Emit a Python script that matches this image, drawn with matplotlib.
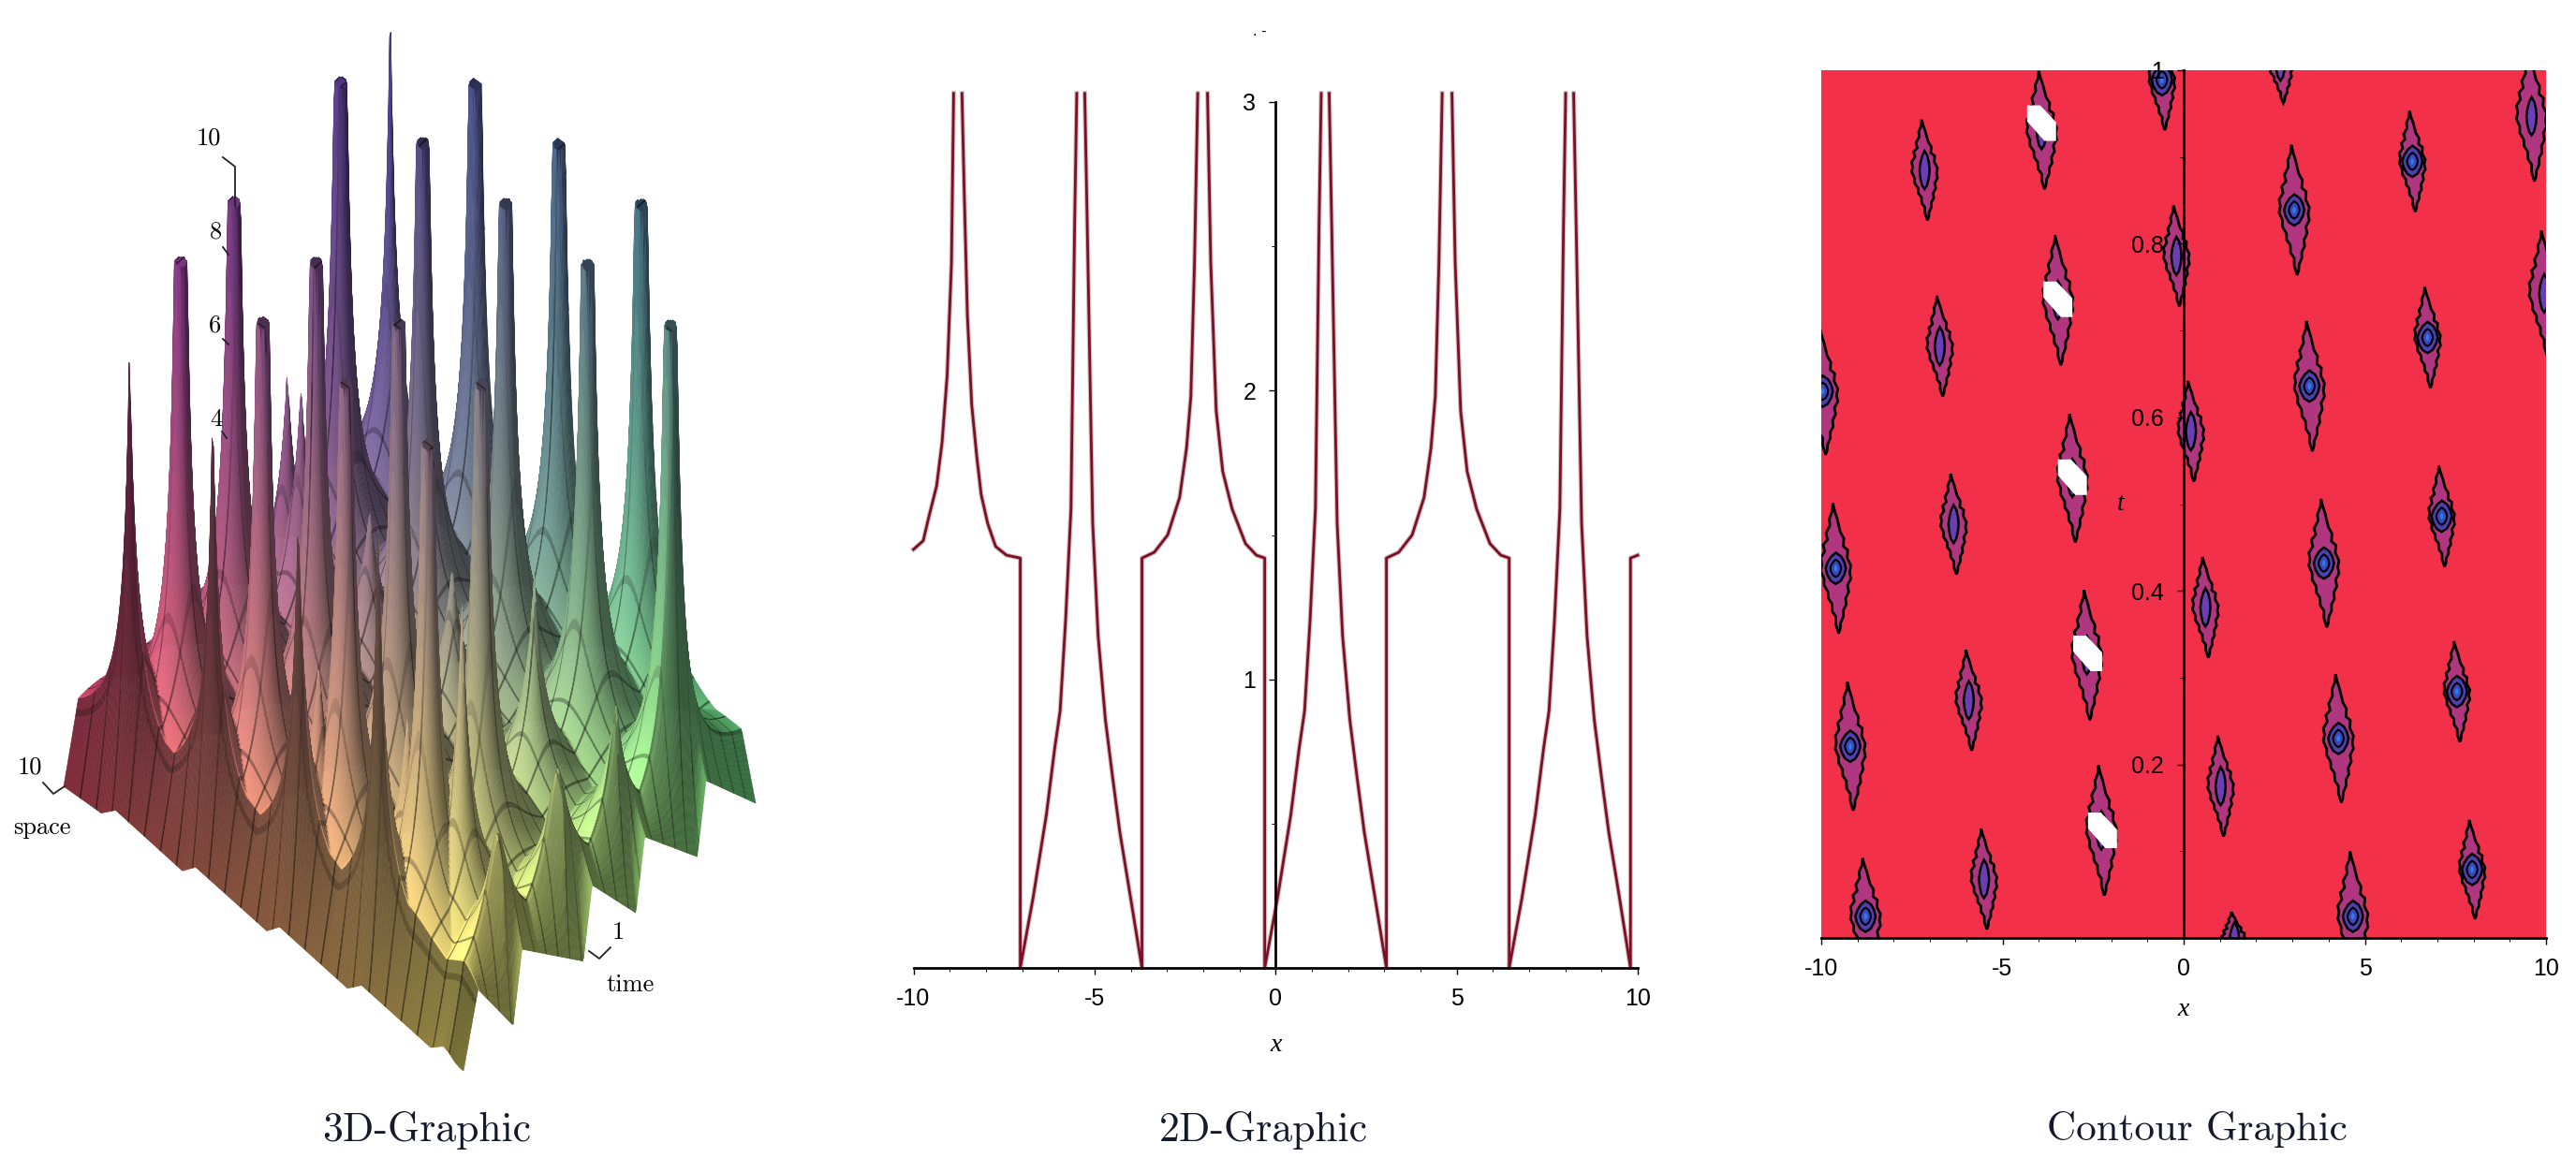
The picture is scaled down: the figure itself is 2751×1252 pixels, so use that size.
import numpy as np
import matplotlib
matplotlib.use('Agg')
import matplotlib.pyplot as plt
from matplotlib.collections import PolyCollection

W, H = 2751, 1252
nan = float('nan')

# 2D graphic
curve_x = [-10.00, -9.73, -9.58, -9.36, -9.21, -9.07, -8.95, -8.89, nan, -8.66, -8.60, -8.51, -8.39, -8.25, -8.13, -7.95, -7.73, -7.43, -7.05,
           -7.05, -6.70, -6.33, -6.10, -5.95, -5.80, -5.65, -5.55, -5.49, nan, -5.27, -5.20, -5.05, -4.90, -4.70, -4.50, -4.30, -4.00, -3.69,
           -3.69, -3.35, -2.98, -2.65, -2.46, -2.34, -2.24, -2.15, nan, -1.88, -1.79, -1.64, -1.46, -1.20, -0.83, -0.53, -0.30,
           -0.30, 0.05, 0.42, 0.65, 0.80, 0.95, 1.10, 1.20, 1.26, nan, 1.48, 1.55, 1.70, 1.85, 2.05, 2.25, 2.45, 2.75, 3.06,
           3.06, 3.40, 3.77, 4.10, 4.29, 4.41, 4.51, 4.60, nan, 4.87, 4.96, 5.11, 5.29, 5.55, 5.92, 6.22, 6.45,
           6.45, 6.80, 7.17, 7.40, 7.55, 7.70, 7.85, 7.95, 8.01, nan, 8.23, 8.30, 8.45, 8.60, 8.80, 9.00, 9.20, 9.50, 9.80,
           9.80, 10.00]
curve_y = [1.45, 1.48, 1.56, 1.67, 1.82, 2.05, 2.44, 3.03, nan, 3.03, 2.70, 2.26, 1.95, 1.77, 1.64, 1.54, 1.46, 1.43, 1.42,
           0.00, 0.24, 0.53, 0.76, 0.89, 1.20, 1.59, 2.57, 3.03, nan, 3.03, 2.57, 1.54, 1.15, 0.86, 0.66, 0.47, 0.24, 0.00,
           1.42, 1.44, 1.50, 1.63, 1.80, 1.98, 2.44, 3.03, nan, 3.03, 2.44, 1.93, 1.72, 1.59, 1.47, 1.43, 1.42,
           0.00, 0.24, 0.53, 0.76, 0.89, 1.20, 1.59, 2.57, 3.03, nan, 3.03, 2.57, 1.54, 1.15, 0.86, 0.66, 0.47, 0.24, 0.00,
           1.42, 1.44, 1.50, 1.63, 1.80, 1.98, 2.44, 3.03, nan, 3.03, 2.44, 1.93, 1.72, 1.59, 1.47, 1.43, 1.42,
           0.00, 0.24, 0.53, 0.76, 0.89, 1.20, 1.59, 2.57, 3.03, nan, 3.03, 2.57, 1.54, 1.15, 0.86, 0.66, 0.47, 0.24, 0.00,
           1.42, 1.43]

# contour graphic: one entry per closed contour family
blob_x = [-3.92, -0.60, 2.67, 9.60, -7.15, 6.31, 3.05, -0.20, -3.47, 9.95, -6.73, 6.73, 3.47, -9.96, 0.20, -3.07, -6.35,
          7.12, 3.87, -9.60, 0.60, -2.67, -5.93, 7.54, 4.27, -9.20, 1.02, -2.27, -5.51, 7.96, 4.67, -8.78, 1.40]
blob_t = [0.931, 0.989, 1.010, 0.947, 0.885, 0.895, 0.839, 0.786, 0.735, 0.743, 0.682, 0.692, 0.636, 0.630, 0.584, 0.530, 0.477,
          0.486, 0.432, 0.426, 0.381, 0.326, 0.274, 0.284, 0.230, 0.221, 0.175, 0.124, 0.068, 0.079, 0.025, 0.025, -0.004]
blob_h = [0.068, 0.058, 0.048, 0.075, 0.058, 0.058, 0.075, 0.058, 0.075, 0.072, 0.058, 0.058, 0.075, 0.073, 0.058, 0.074, 0.058,
          0.058, 0.074, 0.075, 0.058, 0.075, 0.058, 0.058, 0.074, 0.074, 0.058, 0.075, 0.058, 0.057, 0.075, 0.067, 0.034]
blob_rings = [0, 1, 0, 0, 0, 1, 1, 0, 0, 0, 0, 1, 1, 1, 0, 0, 0, 1, 1, 1, 0, 0, 0, 1, 1, 1, 0, 0, 0, 1, 1, 1, 0]
gap_x = [-3.92, -3.47, -3.07, -2.65, -2.24]
gap_t = [0.939, 0.736, 0.531, 0.328, 0.124]

outline_u = [0, .10, .24, .30, .40, .62, .56, .84, .78, 1.0, .90, .96, .72, .78, .56, .58, .38, .36, .16, .12,
             0, -.16, -.14, -.36, -.36, -.58, -.58, -.82, -.80, -1, -.90, -.96, -.68, -.76, -.46, -.54, -.26, -.28, -.06, 0]
outline_v = [1, .88, .76, .68, .56, .46, .34, .28, .16, .04, -.06, -.16, -.26, -.36, -.46, -.56, -.64, -.74, -.84, -.93,
             -1, -.86, -.74, -.66, -.54, -.46, -.36, -.26, -.16, -.04, .06, .16, .26, .36, .44, .54, .66, .76, .88, 1]
core_u = [0, .55, .85, 1, .85, .5, 0, -.5, -.85, -1, -.8, -.45, 0]
core_v = [1, .75, .4, 0, -.4, -.8, -1, -.8, -.4, 0, .4, .75, 1]
gap_u = [-1, -.1, 1, 1, .2, -1, -1]
gap_v = [1, 1, .05, -1, -1, .1, 1]

# 3D graphic: peaks, space and time as fractions of the base edges
peak_s = [.097, .306, .516, .725,
          .114, .323, .533, .742, .952,
          .131, .170, .340, .550, .759, .969,
          .148, .357, .567, .776, .986,
          .165, .374, .584, .793, .985,
          .128, .336, .550, .750, .550, .750, .850]
peak_t = [.985, .990, .989, .984,
          .792, .787, .783, .778, .774,
          .586, .580, .582, .577, .572, .568,
          .381, .376, .371, .367, .362,
          .175, .170, .166, .161, .157,
          .050, .050, .050, .050, .120, .150, .200]
peak_h = [9.99, 10, 10, 10,
          10, 10, 10, 10, 10,
          5.7, 5.7, 4.2, 4.3, 5.3, 4.3,
          10, 10, 10, 10, 7.3,
          10, 10, 10, 10, 6.3,
          9.0, 9.0, 8.1, 9.2, 4.8, 4.7, 7.3]
peak_boost = .9
front_s = [0, .094, .13, .297, .33, .508, .54, .71, .745, .918, .95, 1]
front_z = [0, 0, .25, 0, .25, 0, .25, 0, .25, 0, .2, 0]
side_t = [0, .05, .17, .20, .41, .44, .59, .62, .80, .83, 1]
side_z = [0, 1.3, 0, 1.3, 0, 1.3, 0, 1.3, 0, 1.3, 0]

plt.rcParams['font.family'] = ['Liberation Sans', 'DejaVu Sans']
CM = ['cmr10', 'DejaVu Serif']

fig = plt.figure(figsize=(W / 100, H / 100), dpi=100)
bg = fig.add_axes([0, 0, 1, 1])
bg.set_xlim(0, W)
bg.set_ylim(H, 0)
bg.axis('off')


def px_axes(left, right, top, bottom):
    return fig.add_axes([left / W, 1 - bottom / H, (right - left) / W, (bottom - top) / H])


def draw_surface():
    n = 300
    s, t = np.meshgrid(np.linspace(0, 1, n), np.linspace(0, 1, n), indexing='ij')
    ox, oy = 68, 840
    lx, ly = 427, 304
    bx, by = 312, -286
    zscale = 56
    floor = .55
    gx = ox + lx * s + bx * t
    gy = oy + ly * s + by * t
    z = np.zeros_like(s)
    for ps, pt, ph in zip(peak_s, peak_t, peak_h):
        r = np.hypot(gx - (ox + lx * ps + bx * pt), gy - (oy + ly * ps + by * pt))
        if ph >= 10:
            zp = np.minimum(ph, floor + 65 / (r + .01))
        else:
            # lower peaks end in a point, not a cut off tube
            tip = ph + peak_boost if ph > 9.5 else ph
            r0 = 65 / (tip - floor)
            zp = floor + (tip - floor) * r0 / (r0 + r)
        z = np.maximum(z, zp)
    cap = (z >= 9.99) & (s > .2)
    # toothed rims at the two visible edges
    f = np.clip(t / .05, 0, 1)
    z = f * z + (1 - f) * np.interp(s, front_s, front_z)
    f2 = np.clip((1 - s) / .035, 0, 1)
    z = f2 * z + (1 - f2) * np.minimum(z, np.interp(t, side_t, side_z))

    dz_s, dz_t = np.gradient(z * zscale, s[:, 0], t[0, :])
    inv = np.linalg.inv(np.array([[lx, ly], [bx, by]], float))
    dz_x = inv[0, 0] * dz_s + inv[0, 1] * dz_t
    dz_y = inv[1, 0] * dz_s + inv[1, 1] * dz_t
    norm = np.sqrt(dz_x ** 2 + dz_y ** 2 + 1)
    light = (.60 * dz_x - .45 * dz_y + .66) / norm
    shade = .55 + .68 * np.clip(light, 0, 1)
    shade[cap] = .62

    zn = np.clip(z / 10, 0, 1)
    corners = np.array([[.88, .28, .38], [.98, .92, .42], [.44, .94, .52], [.44, .34, .58]])
    base = (corners[0] * ((1 - s) * (1 - t))[..., None] + corners[1] * (s * (1 - t))[..., None]
            + corners[2] * (s * t)[..., None] + corners[3] * ((1 - s) * t)[..., None])
    rgb = np.stack([base[..., 0] * (1 - .4 * zn), base[..., 1] * (1 - .45 * zn),
                    base[..., 2] * (1 - zn) + .52 * zn], axis=-1) * shade[..., None]
    rgb[t < .05] *= .5
    rgb[s > .965] *= .85
    # mesh lines are darkened cells so that they hide correctly, fading where a cell stretches across
    ds, dt = 1 / (n - 1), 1 / (n - 1)
    for i in range(12, n, 12):
        w = 1 / (1 + np.abs(dz_s[i, :]) * ds / 5)
        rgb[i, :] *= (1 - .55 * w)[:, None]
        w = 1 / (1 + np.abs(dz_t[:, i]) * dt / 5)
        rgb[:, i] *= (1 - .5 * w)[:, None]
    rgb = np.clip(rgb, 0, 1)

    sx, sy = gx, gy - z * zscale
    quads = np.stack([np.stack([sx[:-1, :-1], sy[:-1, :-1]], -1), np.stack([sx[1:, :-1], sy[1:, :-1]], -1),
                      np.stack([sx[1:, 1:], sy[1:, 1:]], -1), np.stack([sx[:-1, 1:], sy[:-1, 1:]], -1)], axis=2)
    quads = quads.reshape(-1, 4, 2)
    cols = rgb[:-1, :-1].reshape(-1, 3)
    order = np.argsort(gy[:-1, :-1].ravel())
    bg.add_collection(PolyCollection(quads[order], facecolors=cols[order], edgecolors=cols[order], linewidths=.4))


draw_surface()

# 3D axis labels
for xs, ys in [([238, 251, 251], [168, 178, 220]), ([238, 244], [264, 272]), ([238, 244], [362, 368]),
               ([237, 242], [461, 468]), ([46, 57, 69], [836, 848, 840]), ([629, 640, 652], [1016, 1024, 1012])]:
    bg.plot(xs, ys, color='#222222', lw=1.3, zorder=5)
for label, px, py in [('10', 223, 148), ('8', 230, 248), ('6', 230, 348), ('4', 231, 448),
                      ('10', 32, 820), ('space', 45, 884), ('1', 660, 996), ('time', 673, 1052)]:
    bg.text(px, py, label, family=CM, fontsize=19, ha='center', va='center', zorder=6)

# titles
for label, px, size in [('3D-Graphic', 456, 31.5), ('2D-Graphic', 1349, 31.5), ('Contour Graphic', 2346, 31)]:
    bg.text(px, 1207, label, family=CM, fontsize=size, color='#141a2c', ha='center', va='center')
bg.text(1345, 34, '. -', fontsize=12, ha='center', va='center')


def style_axes(ax, ylim, yticks, ylabels, yminor, xpad):
    ax.set_xlim(-10, 10)
    ax.set_ylim(*ylim)
    for side in ['top', 'right']:
        ax.spines[side].set_visible(False)
    ax.spines['left'].set_position(('data', 0))
    ax.spines['left'].set_linewidth(2)
    ax.spines['bottom'].set_linewidth(2)
    ax.set_xticks([-10, -5, 0, 5, 10])
    ax.set_xticklabels(['-10', '-5', '0', '5', '10'])
    ax.set_xticks(np.arange(-10, 11), minor=True)
    ax.set_yticks(yticks)
    ax.set_yticklabels(ylabels)
    ax.set_yticks(yminor, minor=True)
    ax.tick_params(axis='both', which='major', length=5, width=1, labelsize=18, pad=10)
    ax.tick_params(axis='both', which='minor', length=3, width=.7)
    ax.set_xlabel('x', family='Liberation Serif', style='italic', fontsize=20, labelpad=xpad)


# 2D graphic
ax2 = px_axes(975.5, 1749, 109, 1034)
ax2.patch.set_alpha(0)
ax2.plot(curve_x, curve_y, color='#d8b8bc', lw=3.6, clip_on=False)
ax2.plot(curve_x, curve_y, color='#7a1024', lw=2, clip_on=False)
style_axes(ax2, (0, 3), [1, 2, 3], ['1', '2', '3'], [.5, 1.5, 2.5], 18)

# contour graphic
ax3 = px_axes(1945, 2719, 75, 1002)
ax3.set_facecolor('#f2304a')
for x, t, h, rings in zip(blob_x, blob_t, blob_h, blob_rings):
    hw = .36 if h < .065 else .42
    v = np.array(outline_v)
    lean = -.08 * v
    ax3.fill(x + hw * np.array(outline_u) + lean, t + h * v, fc='#b0367f', ec='black', lw=2)
    cu, cv = np.array(core_u), np.array(core_v)
    if rings:
        ax3.fill(x + .28 * cu, t + .018 * cv, fc='#4f3fb0', ec='black', lw=1.8)
        ax3.fill(x + .15 * cu, t + .010 * cv, fc='#3a48c0', ec='black', lw=1.5)
        ax3.fill(x + .05 * cu, t + .004 * cv, fc='#2f7be0', ec='none')
    else:
        ax3.fill(x + .14 * cu, t + .022 * cv, fc='#6a3fb5', ec='black', lw=1.8)
for x, t in zip(gap_x, gap_t):
    ax3.fill(x + .40 * np.array(gap_u), t + .0205 * np.array(gap_v), fc='white', ec='none', zorder=3)
style_axes(ax3, (0, 1), [.2, .4, .6, .8, 1], ['0.2', '0.4', '0.6', '0.8', '1'], [.1, .3, .5, .7, .9], 14)
ax3.text(-1.75, .5, 't', family='Liberation Serif', style='italic', fontsize=20, ha='center', va='center')

fig.savefig('out.png', dpi=100)
